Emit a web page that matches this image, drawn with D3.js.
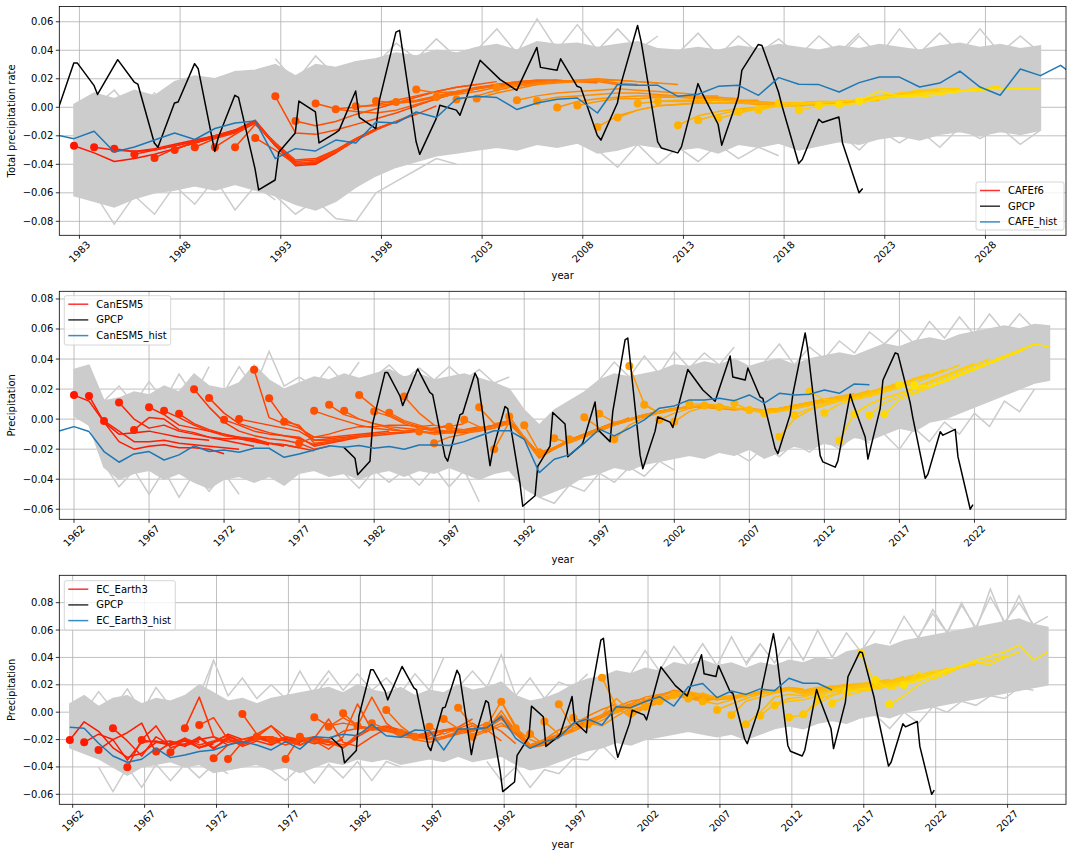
<!DOCTYPE html>
<html>
<head>
<meta charset="utf-8">
<script src="https://cdn.jsdelivr.net/npm/d3@7"></script>
<style>
  body { margin: 0; background: #fff; }
  text { font-family: "DejaVu Sans", sans-serif; fill: #000; }
</style>
</head>
<body>
<svg id="fig" width="1072" height="856"></svg>
<script>
// ---------------- data ----------------

// GPCP observations (shared by all panels), decimal years
const gpcpT = [1979.95,1980.72,1980.9,1981.72,1981.9,1982.72,1982.9,1983.72,1983.9,1984.72,1984.9,1985.72,1985.9,
  1986.72,1986.9,1987.72,1987.9,1988.72,1988.9,1989.72,1989.9,1990.72,1990.9,1991.72,1991.9,1992.72,1992.9,
  1993.72,1993.9,1994.72,1994.9,1995.72,1995.9,1996.72,1996.9,1997.72,1997.9,1998.72,1998.9,1999.72,1999.9,
  2000.72,2000.9,2001.72,2001.9,2002.9,2003.9,2004.72,2005.72,2005.9,2006.72,2006.9,2007.72,2007.9,2008.72,2008.9,
  2009.72,2009.9,2010.72,2010.9,2011.72,2011.9,2012.72,2012.9,2013.72,2013.9,2014.72,2014.9,2015.72,2015.9,
  2016.72,2016.9,2017.72,2017.9,2018.72,2018.9,2019.72,2019.9,2020.72,2020.9,2021.72,2021.9];
const gpcpV = [-0.0185,-0.026,-0.037,-0.028,-0.003,0.031,0.031,0.0154,0.009,0.029,0.0334,0.0177,0.0163,
  -0.025,-0.028,0.003,0.0037,0.0306,0.027,-0.031,-0.021,0.0084,0.007,-0.043,-0.058,-0.051,-0.0315,
  -0.018,0.0044,-0.0033,-0.025,-0.018,-0.016,0.0114,-0.007,-0.015,0.005,0.0527,0.054,-0.024,-0.033,
  -0.008,0.0014,-0.002,-0.0056,0.033,0.0194,0.0119,0.042,0.028,0.026,0.034,0.0147,0.0138,-0.0196,-0.023,
  0.003,0.0166,0.0574,0.046,-0.0243,-0.0285,-0.032,-0.0278,0.0166,0.0107,-0.0119,-0.0266,0.0072,0.0259,
  0.0441,0.0434,0.0107,0.0007,-0.0394,-0.0366,-0.0084,-0.0107,-0.0068,-0.025,-0.06,-0.057];

// ---- CAFE (panel 1), values at year + 0.73
const cafeHistStart = 1981;
const cafeHist = [-0.019,-0.022,-0.0168,-0.0313,-0.0278,-0.023,-0.018,-0.0226,-0.0149,-0.011,-0.0096,
  -0.036,-0.029,-0.0306,-0.023,-0.025,-0.0103,-0.011,-0.0033,-0.0072,0.006,0.0077,0.0068,-0.0016,0.003,
  0.0056,0.0065,-0.004,0.016,0.0154,0.0154,0.0077,0.0091,0.0147,0.0154,0.0084,0.0208,0.0161,0.0159,0.0107,
  0.0173,0.0212,0.0212,0.0142,0.017,0.0254,0.0142,0.0084,0.0268,0.0222,0.0294,0.019];
const cafeEnvStart = 1982;
const cafeEnvHi = [0.002,0.010,0.006,0.012,0.008,0.018,0.022,0.020,0.025,0.026,0.030,0.022,0.030,0.028,0.032,
  0.034,0.038,0.036,0.040,0.038,0.042,0.044,0.040,0.046,0.044,0.045,0.042,0.044,0.046,0.041,0.040,0.042,
  0.040,0.043,0.041,0.044,0.042,0.040,0.043,0.041,0.044,0.042,0.040,0.043,0.045,0.042,0.044,0.041,0.043];
const cafeEnvLo = [-0.062,-0.066,-0.070,-0.064,-0.060,-0.058,-0.055,-0.058,-0.054,-0.058,-0.062,-0.068,-0.072,
  -0.066,-0.056,-0.048,-0.042,-0.038,-0.034,-0.032,-0.030,-0.028,-0.030,-0.026,-0.028,-0.025,-0.032,-0.030,
  -0.026,-0.028,-0.030,-0.028,-0.032,-0.026,-0.028,-0.025,-0.030,-0.027,-0.024,-0.026,-0.022,-0.020,-0.023,
  -0.019,-0.017,-0.020,-0.017,-0.019,-0.016];
// a few outlying ensemble members (start year, values)
const cafeOutStart = [1983, 1983, 1992, 1992, 2002, 2008, 2012, 2020, 2020];
const cafeOut = [
  [0.000,0.012,-0.005,0.010,-0.005,0.015,0.005,0.025,0.010,0.029],
  [-0.060,-0.082,-0.062,-0.075,-0.055,-0.068,-0.050,-0.072,-0.055,-0.065],
  [0.034,0.018,0.036,0.022,0.032,0.030,0.045,0.034,0.048,0.035],
  [-0.062,-0.075,-0.065,-0.078,-0.080,-0.060,-0.052,-0.044,-0.036,-0.040],
  [0.040,0.055,0.038,0.062,0.040,0.058,0.040,0.055,0.040,0.050],
  [-0.030,-0.042,-0.026,-0.040,-0.028,-0.038,-0.026,-0.036,-0.028,-0.034],
  [0.038,0.052,0.036,0.050,0.038,0.048,0.036,0.050,0.038,0.052],
  [0.036,0.050,0.036,0.055,0.038,0.052,0.038,0.055,0.038,0.050,0.038],
  [-0.018,-0.030,-0.016,-0.025,-0.016,-0.028,-0.014,-0.022,-0.014,-0.026,-0.016]
];
const cafeInitStart = 1982;
const cafeFcst = [
  [-0.027,-0.032,-0.038,-0.036,-0.033,-0.029,-0.025,-0.021,-0.016,-0.010],
  [-0.028,-0.030,-0.031,-0.030,-0.027,-0.024,-0.021,-0.017,-0.011,-0.025],
  [-0.029,-0.031,-0.029,-0.026,-0.023,-0.020,-0.016,-0.010,-0.026,-0.039],
  [-0.033,-0.030,-0.027,-0.024,-0.020,-0.017,-0.011,-0.027,-0.040,-0.039],
  [-0.0355,-0.029,-0.025,-0.021,-0.017,-0.010,-0.027,-0.041,-0.040,-0.032],
  [-0.030,-0.024,-0.020,-0.016,-0.009,-0.026,-0.039,-0.039,-0.032,-0.023],
  [-0.028,-0.022,-0.018,-0.010,-0.027,-0.040,-0.038,-0.031,-0.023,-0.016],
  [-0.028,-0.019,-0.011,-0.026,-0.038,-0.037,-0.030,-0.022,-0.015,-0.010],
  [-0.028,-0.012,-0.025,-0.037,-0.036,-0.030,-0.022,-0.015,-0.010,-0.004],
  [-0.0215,-0.030,-0.040,-0.038,-0.031,-0.023,-0.016,-0.010,-0.005,0.001],
  [0.0077,-0.018,-0.019,-0.016,-0.012,-0.008,-0.004,0.001,0.006,0.010],
  [-0.0096,-0.013,-0.010,-0.005,-0.001,0.003,0.007,0.011,0.014,0.016],
  [0.0026,-0.001,0.000,0.002,0.005,0.008,0.011,0.014,0.016,0.018],
  [-0.0014,-0.003,-0.004,-0.002,0.002,0.006,0.010,0.013,0.016,0.017],
  [0.0007,0.001,0.003,0.004,0.007,0.010,0.013,0.015,0.017,0.018],
  [0.0044,0.003,0.004,0.008,0.011,0.014,0.016,0.018,0.019,0.019],
  [0.0037,0.005,0.008,0.010,0.013,0.016,0.018,0.019,0.019,0.018],
  [0.0124,0.010,0.011,0.013,0.015,0.017,0.018,0.019,0.018,0.017],
  [0.0072,0.009,0.011,0.014,0.016,0.017,0.018,0.018,0.018,0.016],
  [0.0054,0.008,0.012,0.015,0.017,0.018,0.019,0.019,0.017,0.016],
  [0.0061,0.010,0.013,0.016,0.018,0.019,0.020,0.019,0.018,0.017],
  [0.0138,0.015,0.016,0.017,0.018,0.019,0.019,0.018,0.017,0.016],
  [0.0049,0.008,0.010,0.011,0.012,0.013,0.012,0.011,0.010,0.009],
  [0.0044,0.007,0.008,0.009,0.010,0.010,0.009,0.008,0.008,0.008],
  [-0.0002,0.004,0.006,0.007,0.008,0.008,0.008,0.007,0.007,0.006],
  [0.0012,0.004,0.006,0.006,0.007,0.007,0.006,0.006,0.005,0.005],
  [-0.0138,-0.006,-0.002,0.001,0.002,0.003,0.003,0.003,0.003,0.003],
  [-0.0072,-0.002,0.001,0.002,0.003,0.003,0.003,0.002,0.002,0.002],
  [0.0026,0.004,0.005,0.005,0.005,0.004,0.004,0.003,0.003,0.004],
  [0.0042,0.004,0.004,0.003,0.003,0.003,0.002,0.003,0.003,0.004],
  [-0.0126,-0.006,-0.003,-0.001,0.000,0.001,0.001,0.002,0.003,0.004],
  [-0.0091,-0.005,-0.002,0.000,0.001,0.001,0.002,0.003,0.004,0.005],
  [-0.0079,-0.004,-0.001,0.001,0.002,0.003,0.004,0.005,0.006,0.008],
  [-0.0033,0.000,0.002,0.003,0.004,0.004,0.005,0.007,0.009,0.010],
  [-0.0021,0.001,0.002,0.003,0.004,0.005,0.007,0.009,0.011,0.012],
  [0.0026,0.003,0.003,0.004,0.005,0.008,0.010,0.012,0.013,0.013],
  [-0.0021,0.001,0.002,0.003,0.006,0.008,0.010,0.011,0.012,0.013],
  [0.0014,0.002,0.003,0.006,0.008,0.010,0.011,0.012,0.013,0.015],
  [0.0019,0.003,0.007,0.008,0.009,0.010,0.012,0.013,0.013,0.013],
  [0.0044,0.0114,0.008,0.007,0.009,0.011,0.012,0.013,0.013,0.013]
];

// ---- CanESM5 (panel 2), values at whole years
const canHistStart = 1961;
const canHist = [-0.008,-0.005,-0.0083,-0.0216,-0.0287,-0.0232,-0.0216,-0.0272,-0.0238,-0.0178,-0.0216,
  -0.0205,-0.022,-0.0194,-0.0194,-0.0254,-0.0232,-0.0205,-0.0178,-0.0187,-0.0176,-0.0194,-0.0183,-0.020,
  -0.0172,-0.0172,-0.0176,-0.015,-0.0112,-0.0077,-0.0077,-0.0134,-0.0356,-0.0267,-0.0238,-0.016,-0.0067,
  -0.0112,-0.0061,-0.0005,0.0073,0.0088,0.0128,0.0128,0.0139,0.0123,0.0161,0.0106,0.0172,0.0161,0.0165,
  0.0194,0.0172,0.0234,0.0228];
const canEnvStart = 1962;
const canEnvHi = [0.033,0.036,0.012,0.014,0.018,0.016,0.022,0.018,0.030,0.022,
  0.020,0.024,0.036,0.026,0.020,0.024,0.028,0.026,0.030,0.027,
  0.030,0.033,0.028,0.030,0.026,0.028,0.030,0.027,0.024,0.020,
  0.006,-0.004,0.006,0.012,0.018,0.026,0.030,0.028,0.030,0.032,
  0.036,0.035,0.038,0.036,0.040,0.035,0.038,0.040,0.036,0.040,
  0.042,0.044,0.042,0.046,0.050,0.048,0.052,0.054,0.052,0.056,
  0.058,0.060,0.062,0.060,0.063,0.062];
const canEnvLo = [0.002,-0.004,-0.032,-0.040,-0.036,-0.034,-0.040,-0.036,-0.042,-0.046,
  -0.040,-0.038,-0.042,-0.038,-0.044,-0.036,-0.034,-0.038,-0.036,-0.040,
  -0.036,-0.034,-0.038,-0.034,-0.036,-0.032,-0.036,-0.040,-0.036,-0.034,
  -0.046,-0.052,-0.048,-0.044,-0.038,-0.036,-0.032,-0.034,-0.030,-0.028,
  -0.026,-0.024,-0.026,-0.022,-0.024,-0.020,-0.026,-0.022,-0.018,-0.020,
  -0.016,-0.018,-0.012,-0.014,-0.010,-0.006,-0.008,-0.002,0.000,0.004,
  0.008,0.012,0.016,0.020,0.024,0.026];
const canOutStart = [1962, 1964, 1972, 1980, 1982, 1993, 1997, 2006, 2008, 2016, 2016];
const canOut = [
  [0.030,0.035,0.012,0.022,0.010,0.025,0.012,0.030,0.015,0.035],
  [-0.030,-0.045,-0.034,-0.050,-0.034,-0.052,-0.036,-0.048,-0.036,-0.050],
  [0.018,0.035,0.020,0.045,0.022,0.028,0.022,0.035,0.024,0.038],
  [-0.036,-0.046,-0.034,-0.042,-0.034,-0.044,-0.032,-0.045,-0.034,-0.055],
  [0.028,0.036,0.026,0.034,0.026,0.035,0.026,0.033,0.024,0.028],
  [-0.052,-0.056,-0.044,-0.048,-0.036,-0.042,-0.032,-0.038,-0.028,-0.034],
  [0.026,0.038,0.028,0.042,0.030,0.045,0.034,0.044,0.036,0.048],
  [-0.022,-0.028,-0.018,-0.025,-0.016,-0.022,-0.014,-0.020,-0.010,-0.016],
  [0.038,0.050,0.036,0.048,0.040,0.052,0.044,0.058,0.050,0.060],
  [0.050,0.060,0.050,0.065,0.054,0.068,0.056,0.070,0.058,0.070,0.060],
  [-0.010,-0.020,-0.006,-0.015,-0.002,-0.010,0.004,-0.005,0.012,0.005,0.020]
];
const canInitStart = 1962;
const canFcst = [
  [0.016,0.012,-0.002,-0.010,-0.009,-0.008,-0.010,-0.012,-0.013,-0.014],
  [0.0154,-0.002,-0.015,-0.020,-0.018,-0.017,-0.019,-0.019,-0.020,-0.023],
  [-0.0012,-0.008,-0.015,-0.015,-0.014,-0.016,-0.017,-0.018,-0.019,-0.020],
  [0.011,0.000,-0.006,-0.004,-0.008,-0.010,-0.012,-0.014,-0.016,-0.018],
  [-0.0072,0.001,0.000,-0.007,-0.009,-0.012,-0.013,-0.013,-0.015,-0.017],
  [0.0079,0.003,-0.004,-0.006,-0.008,-0.010,-0.012,-0.013,-0.016,-0.018],
  [0.0055,0.001,-0.004,-0.008,-0.011,-0.012,-0.014,-0.016,-0.017,-0.019],
  [0.0035,-0.003,-0.007,-0.010,-0.013,-0.014,-0.016,-0.017,-0.019,-0.021],
  [0.0199,0.008,-0.002,-0.008,-0.011,-0.013,-0.014,-0.016,-0.020,-0.018],
  [0.0141,0.004,-0.003,-0.006,-0.009,-0.011,-0.013,-0.017,-0.015,-0.014],
  [-0.0005,-0.004,-0.008,-0.010,-0.011,-0.012,-0.018,-0.016,-0.014,-0.012],
  [0.000,-0.002,-0.004,-0.006,-0.008,-0.014,-0.013,-0.012,-0.011,-0.010],
  [0.0328,0.001,-0.003,-0.006,-0.012,-0.012,-0.011,-0.010,-0.009,-0.008],
  [0.0139,0.000,-0.005,-0.014,-0.014,-0.013,-0.012,-0.011,-0.010,-0.009],
  [-0.0017,-0.004,-0.016,-0.015,-0.013,-0.011,-0.010,-0.009,-0.009,-0.008],
  [-0.016,-0.012,-0.010,-0.007,-0.005,-0.005,-0.004,-0.004,-0.005,-0.004],
  [0.0055,0.002,-0.001,-0.004,-0.006,-0.007,-0.008,-0.007,-0.006,-0.004],
  [0.0095,0.003,0.000,-0.003,-0.005,-0.006,-0.007,-0.006,-0.005,-0.003],
  [0.0055,0.000,-0.003,-0.006,-0.008,-0.008,-0.009,-0.008,-0.007,-0.005],
  [0.0161,0.008,0.003,-0.002,-0.005,-0.007,-0.009,-0.009,-0.008,-0.006],
  [0.005,0.002,-0.003,-0.006,-0.008,-0.009,-0.008,-0.007,-0.004,-0.001],
  [0.0043,-0.001,-0.004,-0.007,-0.008,-0.008,-0.006,-0.004,-0.001,-0.012],
  [0.015,0.004,-0.004,-0.006,-0.007,-0.006,-0.004,-0.001,-0.012,-0.023],
  [-0.0083,-0.010,-0.009,-0.008,-0.006,-0.004,-0.001,-0.013,-0.024,-0.020],
  [-0.016,-0.012,-0.010,-0.007,-0.005,-0.002,-0.012,-0.025,-0.020,-0.015],
  [-0.005,-0.008,-0.008,-0.006,-0.003,-0.013,-0.024,-0.019,-0.014,-0.010],
  [-0.0005,-0.005,-0.006,-0.002,-0.012,-0.024,-0.019,-0.014,-0.010,-0.006],
  [0.0079,-0.003,-0.001,-0.013,-0.025,-0.019,-0.014,-0.010,-0.006,-0.002],
  [-0.020,-0.002,-0.013,-0.026,-0.020,-0.015,-0.011,-0.007,-0.003,0.001],
  [0.0017,-0.012,-0.024,-0.019,-0.014,-0.010,-0.006,-0.003,0.000,0.003],
  [-0.004,-0.022,-0.019,-0.014,-0.010,-0.006,-0.003,0.000,0.003,0.005],
  [-0.022,-0.020,-0.015,-0.010,-0.006,-0.003,0.000,0.003,0.005,0.007],
  [-0.0127,-0.016,-0.012,-0.008,-0.004,-0.001,0.002,0.005,0.007,0.008],
  [-0.0134,-0.012,-0.008,-0.004,-0.001,0.002,0.005,0.007,0.008,0.008],
  [0.0013,-0.006,-0.004,-0.001,0.002,0.005,0.007,0.008,0.008,0.007],
  [0.0035,-0.002,0.000,0.003,0.005,0.007,0.008,0.008,0.007,0.007],
  [-0.0134,-0.004,0.001,0.004,0.007,0.008,0.008,0.007,0.006,0.007],
  [0.0354,0.010,0.004,0.006,0.008,0.009,0.008,0.007,0.007,0.006],
  [0.0095,0.004,0.006,0.008,0.009,0.008,0.007,0.006,0.006,0.007],
  [-0.0005,0.004,0.007,0.009,0.008,0.007,0.006,0.006,0.007,0.009],
  [-0.0017,0.005,0.008,0.008,0.007,0.006,0.006,0.007,0.009,0.011],
  [0.0101,0.010,0.009,0.007,0.006,0.006,0.007,0.009,0.011,0.013],
  [0.009,0.009,0.007,0.006,0.006,0.007,0.009,0.011,0.013,0.015],
  [0.008,0.007,0.006,0.006,0.007,0.009,0.011,0.013,0.015,0.017],
  [0.0106,0.006,0.005,0.006,0.008,0.010,0.012,0.014,0.016,0.019],
  [0.0061,0.004,0.005,0.007,0.009,0.011,0.013,0.015,0.018,0.021],
  [0.0039,0.005,0.007,0.009,0.011,0.013,0.015,0.018,0.021,0.024],
  [-0.0117,0.000,0.006,0.009,0.012,0.014,0.017,0.020,0.023,0.027],
  [0.0028,0.007,0.010,0.012,0.014,0.017,0.020,0.023,0.027,0.030],
  [0.0183,0.013,0.012,0.014,0.016,0.019,0.022,0.026,0.029,0.033],
  [0.0043,0.010,0.013,0.015,0.018,0.021,0.024,0.028,0.032,0.036],
  [-0.0143,0.004,0.010,0.014,0.017,0.021,0.025,0.029,0.033,0.037],
  [0.0033,0.010,0.014,0.017,0.020,0.024,0.028,0.032,0.036,0.040],
  [0.0028,0.011,0.015,0.018,0.022,0.026,0.030,0.034,0.038,0.042],
  [0.0033,0.013,0.017,0.021,0.025,0.029,0.033,0.037,0.041,0.045],
  [0.0228,0.020,0.022,0.026,0.030,0.034,0.038,0.042,0.046,0.050],
  [0.0223,0.022,0.025,0.029,0.033,0.037,0.041,0.045,0.050,0.048]
];

// ---- EC_Earth3 (panel 3), values at year + 0.8
const ecHistStart = 1961;
const ecHist = [-0.011,-0.0118,-0.0227,-0.032,-0.0366,-0.0344,-0.0264,-0.0332,-0.0313,-0.0288,-0.0276,
  -0.024,-0.0215,-0.024,-0.0276,-0.0215,-0.027,-0.0179,-0.0186,-0.0162,-0.0172,-0.0089,-0.0172,-0.0183,
  -0.013,-0.0135,-0.0276,-0.0123,-0.0123,-0.0113,-0.0033,-0.0191,-0.0264,-0.0216,-0.0186,-0.0081,-0.005,
  -0.0094,0.004,0.0033,0.0077,0.0113,0.0045,0.0186,0.021,0.0106,0.0155,0.013,0.017,0.0157,0.0248,0.0211,
  0.0211,0.0162];
const ecEnvStart = 1961;
const ecEnvHi = [0.006,0.012,0.004,0.010,0.012,0.006,0.010,0.008,0.012,0.020,
  0.014,0.008,0.010,0.006,0.010,0.012,0.014,0.016,0.018,0.014,
  0.020,0.016,0.014,0.018,0.012,0.016,0.014,0.020,0.016,0.018,
  0.022,0.012,0.008,0.010,0.014,0.020,0.024,0.026,0.030,0.028,
  0.032,0.030,0.036,0.034,0.038,0.034,0.036,0.032,0.036,0.034,
  0.038,0.036,0.040,0.038,0.042,0.044,0.046,0.044,0.048,0.050,
  0.052,0.054,0.056,0.058,0.060,0.062,0.066,0.060,0.058];
const ecEnvHiLate = [0.044,0.046,0.050,0.048,0.052,0.054,0.056,0.058,0.060,0.062,0.064,0.066,0.068,0.064,0.062]; // 2015..2029
const ecEnvLo = [-0.026,-0.030,-0.034,-0.040,-0.046,-0.040,-0.038,-0.036,-0.040,-0.038,
  -0.044,-0.042,-0.040,-0.038,-0.042,-0.040,-0.044,-0.040,-0.036,-0.038,
  -0.034,-0.036,-0.034,-0.038,-0.036,-0.034,-0.036,-0.032,-0.036,-0.034,
  -0.032,-0.038,-0.042,-0.040,-0.036,-0.032,-0.028,-0.026,-0.022,-0.024,
  -0.020,-0.018,-0.016,-0.014,-0.016,-0.018,-0.016,-0.020,-0.016,-0.012,
  -0.010,-0.012,-0.008,-0.006,-0.008,-0.004,-0.002,-0.004,0.000,0.002,
  0.004,0.006,0.008,0.010,0.012,0.014,0.016,0.018,0.020];
const ecOutStart = [1962, 1963, 1970, 1975, 1978, 1988, 1990, 2000, 2008, 2018, 2017, 2020];
const ecOut = [
  [0.000,0.015,0.002,0.017,0.000,0.018,0.004,0.012,0.000,0.038],
  [-0.040,-0.058,-0.040,-0.055,-0.038,-0.050,-0.038,-0.048,-0.038,-0.045],
  [0.012,0.038,0.012,0.025,0.010,0.020,0.010,0.030,0.012,0.025],
  [-0.042,-0.050,-0.040,-0.052,-0.038,-0.048,-0.036,-0.050,-0.036,-0.040],
  [0.016,0.030,0.016,0.028,0.016,0.025,0.014,0.028,0.016,0.040],
  [0.018,0.030,0.018,0.042,0.012,0.025,0.010,0.022,0.018,0.028],
  [-0.036,-0.050,-0.040,-0.055,-0.042,-0.045,-0.034,-0.035,-0.024,-0.035],
  [0.028,0.045,0.030,0.048,0.034,0.050,0.034,0.055,0.036,0.050],
  [0.034,0.050,0.036,0.055,0.038,0.060,0.040,0.058,0.044,0.060],
  [0.050,0.070,0.054,0.075,0.058,0.080,0.060,0.090,0.064,0.085,0.062],
  [-0.002,-0.012,0.000,-0.008,0.004,0.000,0.008,0.005,0.012,0.010,0.018,0.016],
  [0.055,0.072,0.058,0.078,0.062,0.084,0.066,0.080,0.064,0.070]
];
const ecInitStart = 1961;
const ecFcst = [
  [-0.0203,-0.007,-0.014,-0.026,-0.033,-0.030,-0.022,-0.024,-0.020,-0.022],
  [-0.022,-0.016,-0.020,-0.035,-0.022,-0.021,-0.024,-0.019,-0.026,-0.023],
  [-0.0276,-0.020,-0.015,-0.008,-0.030,-0.022,-0.025,-0.020,-0.018,-0.024],
  [-0.0118,-0.021,-0.032,-0.018,-0.024,-0.021,-0.026,-0.022,-0.016,-0.020],
  [-0.0403,-0.020,-0.010,-0.026,-0.023,-0.019,-0.027,-0.018,-0.022,-0.020],
  [-0.0203,-0.022,-0.021,-0.024,-0.018,-0.026,-0.020,-0.023,-0.017,-0.021],
  [-0.0288,-0.023,-0.020,-0.026,-0.022,-0.019,-0.025,-0.021,-0.024,-0.019],
  [-0.0293,-0.019,-0.024,-0.021,-0.017,-0.022,-0.018,-0.022,-0.020,-0.023],
  [-0.0118,0.011,-0.018,-0.022,-0.020,-0.017,-0.021,-0.019,-0.022,-0.018],
  [-0.0094,-0.004,-0.020,-0.024,-0.019,-0.022,-0.018,-0.021,-0.019,-0.022],
  [-0.0337,-0.024,-0.020,-0.018,-0.010,-0.022,-0.019,-0.021,-0.024,-0.020],
  [-0.0342,-0.022,-0.019,-0.018,-0.021,-0.024,-0.020,-0.022,-0.026,-0.019],
  [-0.0013,-0.016,-0.010,-0.018,-0.020,-0.023,-0.021,-0.024,-0.018,-0.012],
  [-0.0179,-0.018,-0.021,-0.024,-0.019,-0.005,-0.022,-0.025,-0.018,-0.012],
  [-0.0203,-0.024,-0.020,-0.018,-0.021,-0.026,-0.016,-0.012,-0.010,-0.013],
  [-0.0342,-0.018,-0.021,-0.027,-0.018,0.006,-0.013,-0.011,-0.014,-0.016],
  [-0.0179,-0.022,-0.020,-0.014,-0.012,-0.011,-0.013,-0.015,-0.017,-0.018],
  [-0.0037,-0.010,-0.008,-0.010,0.011,-0.008,-0.016,-0.018,-0.019,-0.015],
  [-0.0106,-0.004,-0.010,-0.012,-0.014,-0.016,-0.017,-0.015,-0.014,-0.012],
  [-0.0008,-0.010,-0.012,-0.014,-0.013,-0.017,-0.015,-0.013,-0.011,-0.005],
  [-0.0101,-0.013,-0.012,-0.015,-0.018,-0.016,-0.014,-0.012,-0.008,-0.015],
  [-0.008,-0.012,-0.018,-0.019,-0.017,-0.013,-0.014,-0.010,-0.013,-0.021],
  [0.0016,-0.010,-0.018,-0.020,-0.018,-0.015,-0.012,-0.008,-0.014,-0.023],
  [-0.015,-0.020,-0.022,-0.019,-0.016,-0.014,-0.010,-0.004,-0.015,-0.024],
  [-0.018,-0.020,-0.018,-0.014,-0.013,-0.012,-0.005,-0.016,-0.026,-0.024],
  [-0.0106,-0.016,-0.012,-0.014,-0.011,-0.002,-0.014,-0.025,-0.023,-0.019],
  [-0.005,-0.012,-0.016,-0.013,-0.008,-0.016,-0.024,-0.022,-0.018,-0.013],
  [0.0033,-0.010,-0.013,0.001,-0.014,-0.025,-0.020,-0.016,-0.010,-0.006],
  [-0.018,-0.014,-0.010,-0.012,-0.024,-0.021,-0.017,-0.012,-0.007,-0.003],
  [-0.010,0.008,-0.012,-0.024,-0.020,-0.013,-0.009,-0.003,0.002,0.006],
  [0.0077,-0.010,-0.024,-0.023,-0.018,-0.012,-0.006,-0.002,0.003,0.006],
  [-0.0118,-0.020,-0.024,-0.017,-0.012,-0.007,-0.002,0.004,0.008,0.010],
  [-0.016,-0.024,-0.018,-0.014,-0.008,-0.003,0.002,0.006,0.011,0.013],
  [-0.0069,-0.016,-0.014,-0.009,-0.004,0.001,0.005,0.009,0.013,0.015],
  [0.0058,-0.012,-0.010,-0.006,0.000,0.004,0.008,0.012,0.016,0.014],
  [-0.004,-0.008,-0.010,-0.003,0.003,0.007,0.011,0.015,0.012,0.010],
  [-0.009,-0.002,0.010,0.001,0.005,0.010,0.013,0.011,0.009,0.010],
  [0.0252,0.004,-0.004,0.004,0.008,0.012,0.010,0.008,0.010,0.011],
  [0.002,-0.002,0.003,0.007,0.011,0.013,0.010,0.009,0.011,0.013],
  [0.000,0.004,0.008,0.012,0.014,0.011,0.009,0.010,0.012,0.014],
  [0.004,0.008,0.012,0.015,0.012,0.010,0.011,0.013,0.015,0.016],
  [0.008,0.011,0.014,0.012,0.010,0.011,0.012,0.014,0.016,0.017],
  [0.0126,0.015,0.013,0.011,0.012,0.013,0.015,0.016,0.018,0.017],
  [0.010,0.014,0.010,0.011,0.013,0.014,0.016,0.018,0.016,0.018],
  [0.008,0.006,0.009,0.012,0.014,0.016,0.017,0.015,0.018,0.019],
  [0.0016,0.006,0.010,0.013,0.015,0.017,0.014,0.017,0.019,0.020],
  [-0.002,0.008,0.011,0.014,0.016,0.013,0.016,0.018,0.020,0.021],
  [-0.0088,0.000,0.011,0.013,0.012,0.015,0.017,0.019,0.021,0.022],
  [-0.0026,0.006,0.010,0.011,0.014,0.016,0.018,0.020,0.022,0.024],
  [0.005,0.008,0.009,0.012,0.015,0.017,0.019,0.021,0.023,0.026],
  [-0.0037,-0.002,0.009,0.013,0.016,0.018,0.020,0.022,0.025,0.028],
  [-0.0015,0.006,0.012,0.015,0.017,0.019,0.021,0.024,0.027,0.030],
  [0.0094,0.016,0.018,0.016,0.018,0.020,0.023,0.026,0.029,0.032],
  [0.0065,0.012,0.015,0.017,0.019,0.022,0.025,0.028,0.031,0.033],
  [0.015,0.017,0.018,0.020,0.022,0.025,0.030,0.029,0.033,0.035],
  [0.043,0.020,0.018,0.021,0.024,0.027,0.030,0.033,0.036,0.035],
  [0.0235,0.017,0.019,0.029,0.024,0.028,0.034,0.036,0.038,0.041],
  [0.0058,0.012,0.020,0.025,0.030,0.034,0.037,0.035,0.040,0.044],
  [0.0199,0.023,0.027,0.031,0.034,0.038,0.041,0.044,0.049,0.038,0.044]
];
// late-period upper edge of EC_Earth3 spread replaces the tail of ecEnvHi
const ecEnvHiFull = ecEnvHi.slice(0, 2015 - ecEnvStart).concat(ecEnvHiLate);

// ---------------- layout ----------------
const panels = [
  { model: "CAFEf6", histName: "CAFE_hist", ylabel: "Total precipitation rate", off: 0.73,
    top: 6.5, bottom: 235.3, xDom: [1982.0, 2032.0], yDom: [-0.0898, 0.0707],
    xTicks: d3.range(1983, 2029, 5), yTicks: [-0.08,-0.06,-0.04,-0.02,0,0.02,0.04,0.06],
    legend: { x: 976, y: 182, w: 88, h: 48 },
    envStart: cafeEnvStart, envHi: cafeEnvHi, envLo: cafeEnvLo,
    outStart: cafeOutStart, out: cafeOut,
    histStart: cafeHistStart, hist: cafeHist, initStart: cafeInitStart, fcst: cafeFcst,
    yearLabelY: 279 },
  { model: "CanESM5", histName: "CanESM5_hist", ylabel: "Precipitation", off: 0,
    top: 291.3, bottom: 519.3, xDom: [1961.02, 2028.1], yDom: [-0.0667, 0.0851],
    xTicks: d3.range(1962, 2023, 5), yTicks: [-0.06,-0.04,-0.02,0,0.02,0.04,0.06,0.08],
    legend: { x: 64.3, y: 295.7, w: 106.4, h: 49.3 },
    envStart: canEnvStart, envHi: canEnvHi, envLo: canEnvLo,
    outStart: canOutStart, out: canOut,
    histStart: canHistStart, hist: canHist, initStart: canInitStart, fcst: canFcst,
    yearLabelY: 563 },
  { model: "EC_Earth3", histName: "EC_Earth3_hist", ylabel: "Precipitation", off: 0.8,
    top: 575.3, bottom: 804.3, xDom: [1961.07, 2031.06], yDom: [-0.0673, 0.1000],
    xTicks: d3.range(1962, 2028, 5), yTicks: [-0.06,-0.04,-0.02,0,0.02,0.04,0.06,0.08],
    legend: { x: 64.3, y: 580.7, w: 111, h: 49.3 },
    envStart: ecEnvStart, envHi: ecEnvHiFull, envLo: ecEnvLo,
    outStart: ecOutStart, out: ecOut,
    histStart: ecHistStart, hist: ecHist, initStart: ecInitStart, fcst: ecFcst,
    yearLabelY: 848 }
];

const LEFT = 59.3, RIGHT = 1066;
const svg = d3.select("#fig");
const fmt = d3.format(".2f");
const fcColor = d3.interpolateRgb("#ff1500", "#ffe000");

panels.forEach((p, pi) => {
  const x = d3.scaleLinear().domain(p.xDom).range([LEFT, RIGHT]);
  const y = d3.scaleLinear().domain(p.yDom).range([p.bottom, p.top]);
  const g = svg.append("g");
  const clipId = "clip" + pi;
  g.append("clipPath").attr("id", clipId).append("rect")
    .attr("x", LEFT).attr("y", p.top).attr("width", RIGHT - LEFT).attr("height", p.bottom - p.top);

  // grid
  g.append("g").selectAll("line").data(p.xTicks).join("line")
    .attr("x1", d => x(d)).attr("x2", d => x(d)).attr("y1", p.top).attr("y2", p.bottom)
    .attr("stroke", "#b0b0b0").attr("stroke-width", 0.8);
  g.append("g").selectAll("line").data(p.yTicks).join("line")
    .attr("x1", LEFT).attr("x2", RIGHT).attr("y1", d => y(d)).attr("y2", d => y(d))
    .attr("stroke", "#b0b0b0").attr("stroke-width", 0.8);

  const plot = g.append("g").attr("clip-path", `url(#${clipId})`);
  const line = d3.line().x(d => x(d[0])).y(d => y(d[1]));

  // ensemble spread
  const env = p.envHi.map((hi, i) => ({ t: p.envStart + i + p.off, hi: hi, lo: p.envLo[i] }));
  plot.append("path").datum(env)
    .attr("d", d3.area().x(d => x(d.t)).y0(d => y(d.lo)).y1(d => y(d.hi)))
    .attr("fill", "#cccccc").attr("stroke", "#cccccc").attr("stroke-width", 1.5);
  p.out.forEach((vals, i) => {
    const pts = vals.map((v, k) => [p.outStart[i] + k + p.off, v]);
    plot.append("path").datum(pts).attr("d", line)
      .attr("fill", "none").attr("stroke", "#cccccc").attr("stroke-width", 1.5);
  });

  // forecasts
  const n = p.fcst.length;
  p.fcst.forEach((vals, i) => {
    const t0 = p.initStart + i + p.off;
    const pts = vals.map((v, k) => [t0 + k, v]);
    const c = fcColor(i / (n - 1));
    plot.append("path").datum(pts).attr("d", line)
      .attr("fill", "none").attr("stroke", c).attr("stroke-width", 1.5).attr("stroke-linejoin", "round");
    plot.append("circle").attr("cx", x(pts[0][0])).attr("cy", y(pts[0][1])).attr("r", 4).attr("fill", c);
  });

  // observations
  const obs = gpcpT.map((t, i) => [t, gpcpV[i]]);
  plot.append("path").datum(obs).attr("d", line)
    .attr("fill", "none").attr("stroke", "#000").attr("stroke-width", 1.5).attr("stroke-linejoin", "round");

  // historical run
  const hist = p.hist.map((v, i) => [p.histStart + i + p.off, v]);
  plot.append("path").datum(hist).attr("d", line)
    .attr("fill", "none").attr("stroke", "#1f77b4").attr("stroke-width", 1.5).attr("stroke-linejoin", "round");

  // spines
  g.append("rect").attr("x", LEFT).attr("y", p.top).attr("width", RIGHT - LEFT).attr("height", p.bottom - p.top)
    .attr("fill", "none").attr("stroke", "#000").attr("stroke-width", 0.8);

  // y ticks
  const yt = g.append("g");
  yt.selectAll("line").data(p.yTicks).join("line")
    .attr("x1", LEFT - 3.5).attr("x2", LEFT).attr("y1", d => y(d)).attr("y2", d => y(d))
    .attr("stroke", "#000").attr("stroke-width", 0.8);
  yt.selectAll("text").data(p.yTicks).join("text")
    .attr("x", LEFT - 6).attr("y", d => y(d)).attr("dy", "0.35em")
    .attr("text-anchor", "end").attr("font-size", 10).text(d => fmt(d));

  // x ticks (rotated labels)
  const xt = g.append("g");
  xt.selectAll("line").data(p.xTicks).join("line")
    .attr("x1", d => x(d)).attr("x2", d => x(d)).attr("y1", p.bottom).attr("y2", p.bottom + 3.5)
    .attr("stroke", "#000").attr("stroke-width", 0.8);
  xt.selectAll("text").data(p.xTicks).join("text")
    .attr("transform", d => `translate(${x(d)},${p.bottom + 16.5}) rotate(-45)`)
    .attr("text-anchor", "middle").attr("dy", "0.35em").attr("font-size", 10).text(d => d);

  // axis labels
  g.append("text").attr("x", (LEFT + RIGHT) / 2).attr("y", p.yearLabelY)
    .attr("text-anchor", "middle").attr("font-size", 10).text("year");
  g.append("text").attr("transform", `translate(15,${(p.top + p.bottom) / 2}) rotate(-90)`)
    .attr("text-anchor", "middle").attr("font-size", 10).text(p.ylabel);

  // legend
  const L = p.legend;
  const lg = g.append("g");
  lg.append("rect").attr("x", L.x).attr("y", L.y).attr("width", L.w).attr("height", L.h)
    .attr("rx", 2).attr("fill", "#fff").attr("fill-opacity", 0.8).attr("stroke", "#cccccc").attr("stroke-width", 0.8);
  const items = [[p.model, "#ff3333"], ["GPCP", "#333333"], [p.histName, "#3a8cc4"]];
  items.forEach((it, k) => {
    const yy = L.y + 8.5 + k * 15.7;
    lg.append("line").attr("x1", L.x + 4).attr("x2", L.x + 24).attr("y1", yy).attr("y2", yy)
      .attr("stroke", it[1]).attr("stroke-width", 1.5);
    lg.append("text").attr("x", L.x + 32).attr("y", yy).attr("dy", "0.35em")
      .attr("font-size", 10).text(it[0]);
  });
});
</script>
</body>
</html>
